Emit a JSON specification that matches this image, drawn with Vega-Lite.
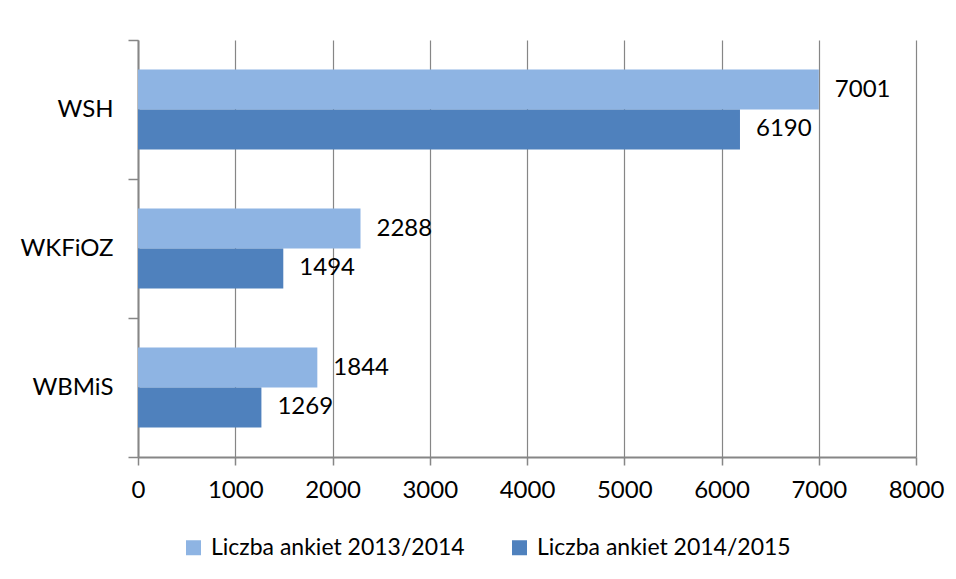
{
  "$schema": "https://vega.github.io/schema/vega-lite/v6.json",
  "width": 778,
  "height": 417,
  "autosize": {"type": "none"},
  "padding": {"left": 138, "top": 40, "right": 40, "bottom": 122},
  "background": "white",
  "data": {
    "values": [
      {"wydzial": "WSH", "seria": "Liczba ankiet 2013/2014", "liczba": 7001},
      {"wydzial": "WSH", "seria": "Liczba ankiet 2014/2015", "liczba": 6190},
      {"wydzial": "WKFiOZ", "seria": "Liczba ankiet 2013/2014", "liczba": 2288},
      {"wydzial": "WKFiOZ", "seria": "Liczba ankiet 2014/2015", "liczba": 1494},
      {"wydzial": "WBMiS", "seria": "Liczba ankiet 2013/2014", "liczba": 1844},
      {"wydzial": "WBMiS", "seria": "Liczba ankiet 2014/2015", "liczba": 1269}
    ]
  },
  "encoding": {
    "y": {
      "field": "wydzial",
      "type": "nominal",
      "sort": ["WSH", "WKFiOZ", "WBMiS"],
      "scale": {"paddingInner": 0, "paddingOuter": 0},
      "axis": {
        "title": null,
        "tickBand": "extent",
        "domainColor": "#868686",
        "domainWidth": 2,
        "tickColor": "#868686",
        "tickWidth": 1.5,
        "tickSize": 10,
        "labelFont": "Lato",
        "labelFontSize": 24,
        "labelColor": "#000000",
        "labelPadding": 15,
        "grid": false
      }
    },
    "yOffset": {
      "field": "seria",
      "type": "nominal",
      "sort": ["Liczba ankiet 2013/2014", "Liczba ankiet 2014/2015"],
      "scale": {"paddingInner": 0, "paddingOuter": 0.74}
    },
    "x": {
      "field": "liczba",
      "type": "quantitative",
      "scale": {"domain": [0, 8000], "nice": false},
      "axis": {
        "title": null,
        "values": [0, 1000, 2000, 3000, 4000, 5000, 6000, 7000, 8000],
        "format": "d",
        "labelFlush": false,
        "labelOverlap": false,
        "grid": true,
        "gridColor": "#868686",
        "gridWidth": 1.2,
        "domainColor": "#868686",
        "domainWidth": 2,
        "tickColor": "#868686",
        "tickWidth": 1.5,
        "tickSize": 8,
        "labelFont": "Lato",
        "labelFontSize": 24,
        "labelColor": "#000000",
        "labelPadding": 13
      }
    }
  },
  "layer": [
    {
      "mark": {"type": "bar"},
      "encoding": {
        "color": {
          "field": "seria",
          "type": "nominal",
          "scale": {
            "domain": ["Liczba ankiet 2013/2014", "Liczba ankiet 2014/2015"],
            "range": ["#8EB4E3", "#4F81BD"]
          },
          "legend": {
            "title": null,
            "orient": "none",
            "direction": "horizontal",
            "legendX": 44,
            "legendY": 496,
            "symbolType": "square",
            "symbolSize": 225,
            "symbolStrokeWidth": 0,
            "labelFont": "Lato",
            "labelFontSize": 23,
            "labelColor": "#000000",
            "labelLimit": 0,
            "labelOffset": 6,
            "columnPadding": 43,
            "padding": 0
          }
        }
      }
    },
    {
      "mark": {
        "type": "text",
        "align": "left",
        "baseline": "middle",
        "dx": 16,
        "font": "Lato",
        "fontSize": 24,
        "color": "#000000"
      },
      "encoding": {
        "text": {"field": "liczba", "type": "quantitative", "format": "d"}
      }
    }
  ],
  "config": {
    "view": {"stroke": null}
  }
}
